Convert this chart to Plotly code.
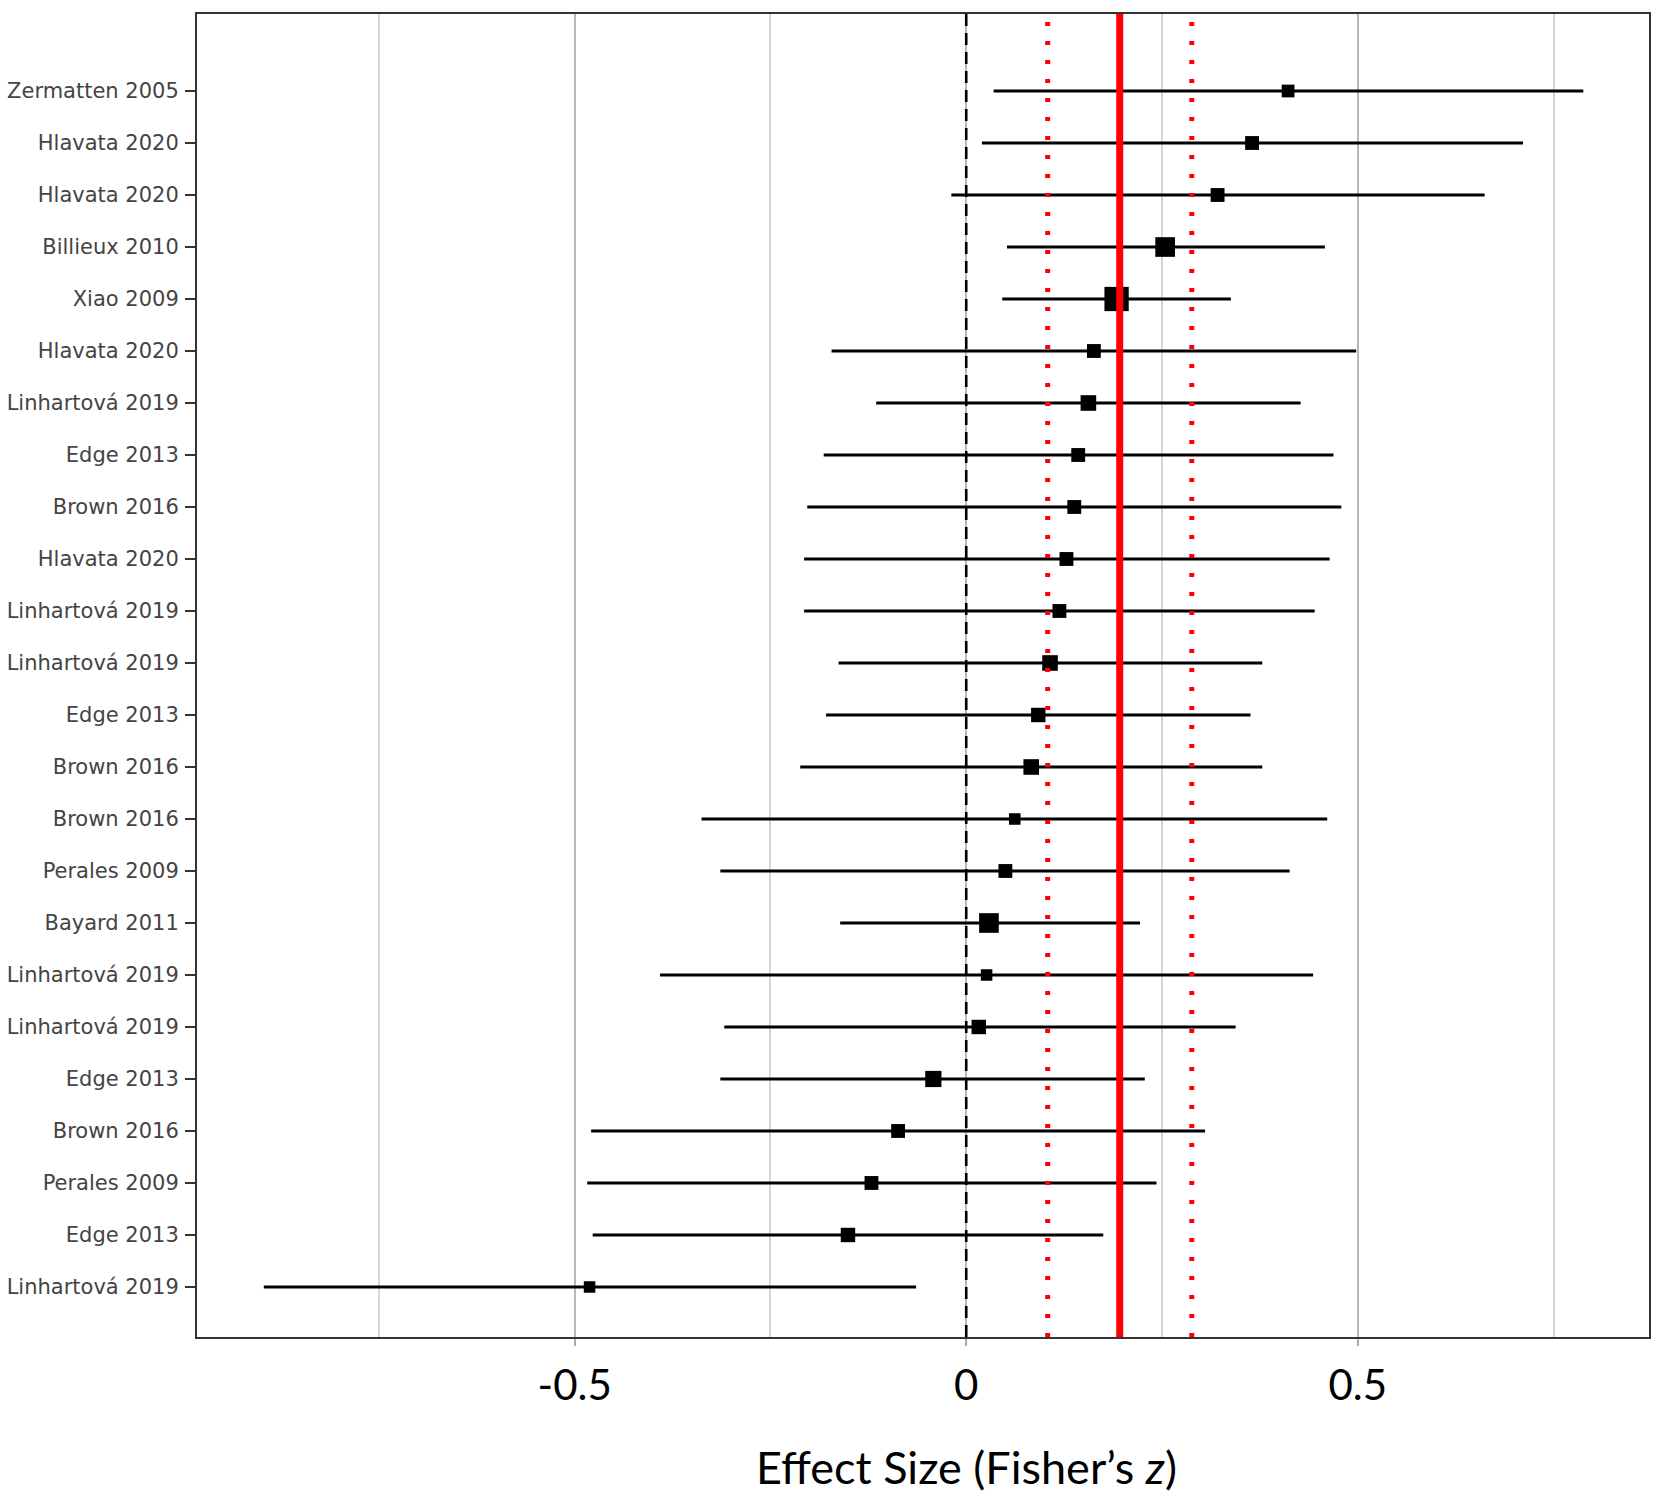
import plotly.graph_objects as go

# ---- data (top to bottom) ----
studies = ["Zermatten 2005", "Hlavata 2020", "Hlavata 2020", "Billieux 2010", "Xiao 2009",
           "Hlavata 2020", "Linhartová 2019", "Edge 2013", "Brown 2016", "Hlavata 2020",
           "Linhartová 2019", "Linhartová 2019", "Edge 2013", "Brown 2016", "Brown 2016",
           "Perales 2009", "Bayard 2011", "Linhartová 2019", "Linhartová 2019", "Edge 2013",
           "Brown 2016", "Perales 2009", "Edge 2013", "Linhartová 2019"]
effect = [0.411, 0.365, 0.321, 0.254, 0.192, 0.163, 0.156, 0.143, 0.138, 0.128, 0.119, 0.107,
          0.092, 0.083, 0.062, 0.050, 0.029, 0.026, 0.016, -0.042, -0.087, -0.121, -0.151, -0.481]
ci_low = [0.035, 0.020, -0.019, 0.052, 0.046, -0.172, -0.115, -0.182, -0.203, -0.207, -0.207, -0.163,
          -0.179, -0.212, -0.338, -0.314, -0.161, -0.391, -0.309, -0.314, -0.479, -0.484, -0.477, -0.897]
ci_high = [0.788, 0.711, 0.662, 0.458, 0.338, 0.498, 0.427, 0.469, 0.479, 0.464, 0.445, 0.378,
           0.363, 0.378, 0.461, 0.413, 0.222, 0.443, 0.344, 0.228, 0.305, 0.243, 0.175, -0.064]
weights = [6.0, 7.1, 7.1, 14.3, 21.8, 7.1, 9.0, 7.1, 7.1, 7.1, 7.1, 9.0,
           7.7, 9.0, 4.9, 7.1, 14.3, 4.9, 7.7, 9.7, 7.1, 7.1, 7.7, 4.9]
pooled = 0.196
pooled_low = 0.104
pooled_high = 0.288

x_ticks = [-0.5, 0, 0.5]
x_tick_labels = ["-0.5", "0", "0.5"]

n = len(studies)
ypos = list(range(n, 0, -1))
sizes = [5.2 * (w ** 0.5) for w in weights]

fig = go.Figure()
fig.add_trace(go.Scatter(
    x=effect, y=ypos, mode="markers",
    marker=dict(symbol="square", size=sizes, color="#000000", opacity=1, line=dict(width=0)),
    error_x=dict(type="data", symmetric=False,
                 array=[h - e for h, e in zip(ci_high, effect)],
                 arrayminus=[e - l for e, l in zip(effect, ci_low)],
                 color="#000000", thickness=3, width=0),
    showlegend=False, hoverinfo="skip"))

# reference lines
fig.add_vline(x=0, line=dict(color="black", width=2.6, dash="12px,7px"))
fig.add_vline(x=pooled_low, line=dict(color="#ff0000", width=5, dash="4px,15px"))
fig.add_vline(x=pooled_high, line=dict(color="#ff0000", width=5, dash="4px,15px"))
fig.add_vline(x=pooled, line=dict(color="#ff0000", width=7))

# x-axis title, centred under x = 0 as in the original
fig.add_annotation(text="Effect Size (Fisher’s <i>z</i>)", x=0, xref="x", y=0, yref="paper",
                   yanchor="middle", yshift=-130, showarrow=False,
                   font=dict(family="Lato", size=45, color="black"))

fig.update_layout(
    width=1658, height=1496,
    margin=dict(l=197, r=9, t=14, b=159),
    plot_bgcolor="white", paper_bgcolor="white",
    xaxis=dict(
        range=[-0.9823, 0.8719],
        tickvals=x_ticks, ticktext=x_tick_labels,
        tickfont=dict(family="Lato", size=42, color="black"),
        ticks="outside", ticklen=7, tickwidth=2, tickcolor="#aaaaaa",
        ticklabelstandoff=4,
        showgrid=True, gridcolor="#b8b8b8", gridwidth=2,
        minor=dict(tick0=0.25, dtick=0.5, showgrid=True, gridcolor="#d6d6d6", gridwidth=1.5, ticks=""),
        zeroline=False, automargin=False,
        showline=True, linecolor="#333333", linewidth=2, mirror=True,
    ),
    yaxis=dict(
        range=[0.038, 25.481],
        tickvals=ypos, ticktext=studies,
        tickfont=dict(family="DejaVu Sans", size=21, color="#444444"),
        ticks="outside", ticklen=10, tickwidth=2, tickcolor="#333333",
        ticklabelstandoff=2,
        showgrid=False, zeroline=False, automargin=False,
        showline=True, linecolor="#333333", linewidth=2, mirror=True,
    ),
)

fig.write_html("out.html", config={"displayModeBar": False},
               post_script="document.body.style.margin='0';document.body.style.padding='0';")
